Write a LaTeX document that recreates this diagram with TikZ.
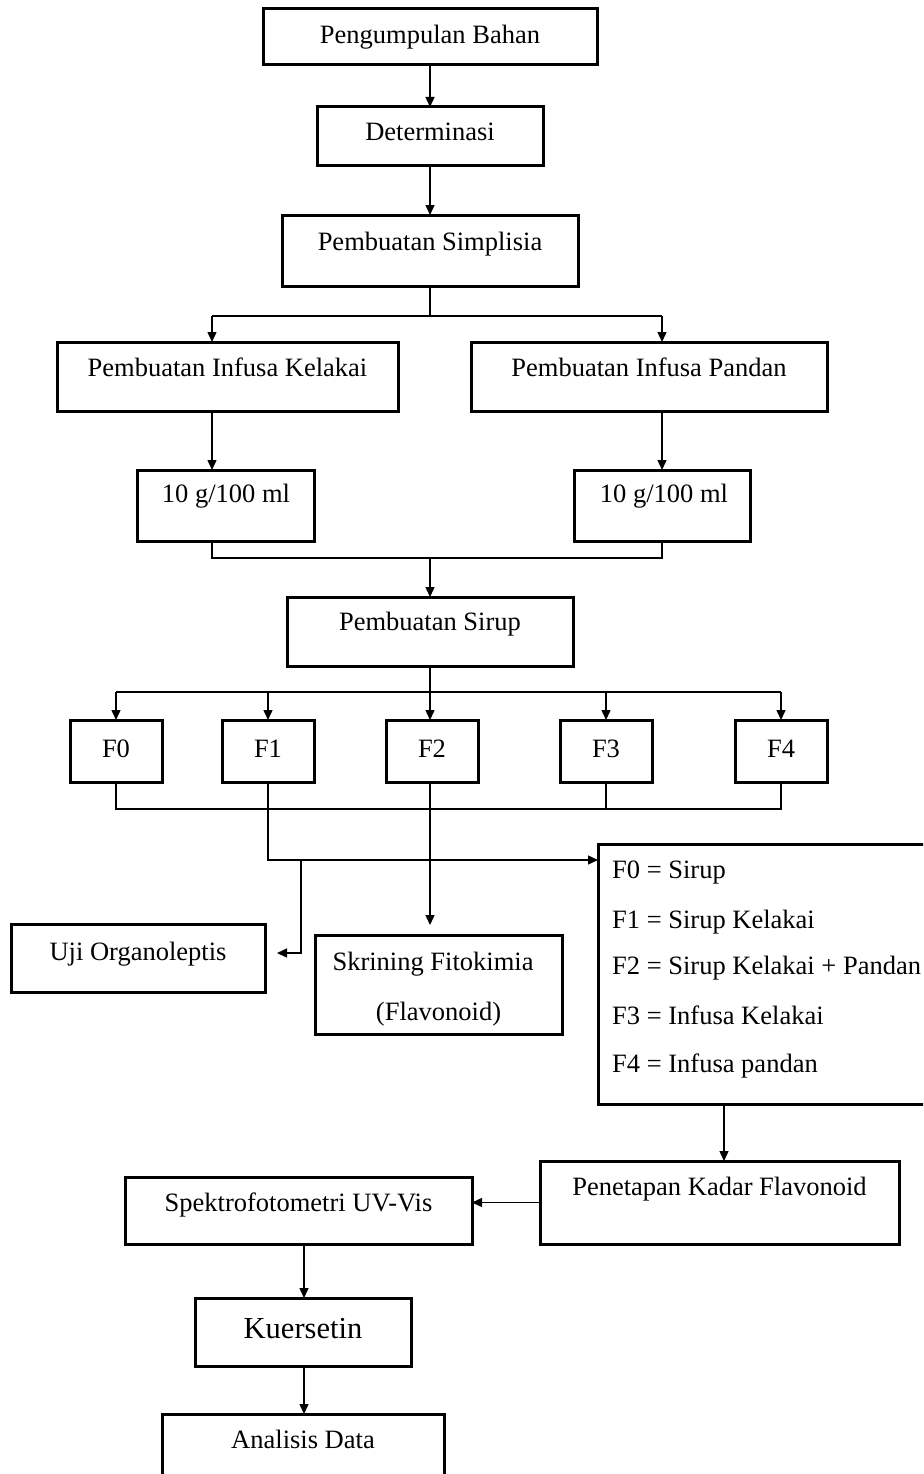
\documentclass[tikz,border=0pt]{standalone}
\usepackage{fontspec}
\setmainfont{Liberation Serif}
\usetikzlibrary{arrows.meta}
\begin{document}
\begin{tikzpicture}[x=1pt,y=-1pt,
 box/.style={draw,line width=3pt,inner sep=0pt,outer sep=0pt},
 txt/.style={anchor=base,inner sep=0pt,font=\fontsize{26.5}{30}\selectfont},
 ltxt/.style={anchor=base west,inner sep=0pt,font=\fontsize{26.5}{30}\selectfont},
 conn/.style={line width=1.4pt},
 arr/.style={conn,-{Triangle[length=10pt,width=9pt]}}]
\clip (0,0) rectangle (923,1474);
% columns and junction levels
\coordinate (cl) at (212,0);
\coordinate (cr) at (662,0);
\coordinate (cp) at (724,0);
\coordinate (cs) at (304,0);
\coordinate (cu) at (301,0);
\coordinate (j0) at (0,316);
\coordinate (j1) at (0,558);
\coordinate (j2) at (0,692);
\coordinate (j3) at (0,809);
\coordinate (j4) at (0,860);
\coordinate (j5) at (0,953);
% boxes
\node[box,minimum width=334,minimum height=56] (pb) at (430,37) {};
\node[txt] (pbt) at (430,44) {Pengumpulan Bahan};
\node[box,minimum width=226,minimum height=59] (det) at (430,136.5) {};
\node[txt] (dett) at (430,141) {Determinasi};
\node[box,minimum width=296,minimum height=71] (sim) at (430,250.5) {};
\node[txt] (simt) at (430,250) {Pembuatan Simplisia};
\node[box,minimum width=341,minimum height=69] (ik) at (227.5,376.5) {};
\node[txt] (ikt) at (227.5,376) {Pembuatan Infusa Kelakai};
\node[box,minimum width=356,minimum height=69] (ip) at (649,376.5) {};
\node[txt] (ipt) at (649,376) {Pembuatan Infusa Pandan};
\node[box,minimum width=177,minimum height=71] (k1) at (225.5,505.5) {};
\node[txt] (k1t) at (226,502) {10 g/100 ml};
\node[box,minimum width=176,minimum height=71] (k2) at (662,505.5) {};
\node[txt] (k2t) at (664,502) {10 g/100 ml};
\node[box,minimum width=286,minimum height=69] (sir) at (430,631.5) {};
\node[txt] (sirt) at (430,630) {Pembuatan Sirup};
\node[box,minimum width=92,minimum height=62] (f0) at (116,751) {};
\node[txt] (f0t) at (116,757) {F0};
\node[box,minimum width=92,minimum height=62] (f1) at (268,751) {};
\node[txt] (f1t) at (268,757) {F1};
\node[box,minimum width=92,minimum height=62] (f2) at (432,751) {};
\node[txt] (f2t) at (432,757) {F2};
\node[box,minimum width=92,minimum height=62] (f3) at (606,751) {};
\node[txt] (f3t) at (606,757) {F3};
\node[box,minimum width=92,minimum height=62] (f4) at (781,751) {};
\node[txt] (f4t) at (781,757) {F4};
\node[box,minimum width=254,minimum height=68] (uji) at (138,958) {};
\node[txt] (ujit) at (138,960) {Uji Organoleptis};
\node[box,minimum width=247,minimum height=99] (skr) at (438.5,984.5) {};
\node[txt] (skrt1) at (433,970) {Skrining Fitokimia};
\node[txt] (skrt2) at (438.5,1020) {(Flavonoid)};
\node[box,minimum width=342,minimum height=260] (leg) at (769,974) {};
\node[ltxt] (l0) at (612,878) {F0 = Sirup};
\node[ltxt] (l1) at (612,928) {F1 = Sirup Kelakai};
\node[ltxt] (l2) at (612,974) {F2 = Sirup Kelakai + Pandan};
\node[ltxt] (l3) at (612,1024) {F3 = Infusa Kelakai};
\node[ltxt] (l4) at (612,1072) {F4 = Infusa pandan};
\node[box,minimum width=359,minimum height=83] (pen) at (719.5,1202.5) {};
\node[txt] (pent) at (719.5,1195) {Penetapan Kadar Flavonoid};
\node[box,minimum width=347,minimum height=67] (spk) at (298.5,1210.5) {};
\node[txt] (spkt) at (298.5,1211) {Spektrofotometri UV-Vis};
\node[box,minimum width=216,minimum height=68] (kue) at (303,1332) {};
\node[txt,font=\fontsize{30.5}{34}\selectfont] (kuet) at (303,1338) {Kuersetin};
\node[box,minimum width=282,minimum height=86] (ana) at (303,1457) {};
\node[txt] (anat) at (303,1448) {Analisis Data};
% connectors
\draw[arr] (pb.south) -- (det.north);
\draw[arr] (det.south) -- (sim.north);
\draw[conn] (sim.south) -- (sim.south |- j0);
\draw[conn] (j0 -| cl) -- (j0 -| cr);
\draw[arr] (j0 -| cl) -- (ik.north -| cl);
\draw[arr] (j0 -| cr) -- (ip.north -| cr);
\draw[arr] (ik.south -| cl) -- (k1.north -| cl);
\draw[arr] (ip.south -| cr) -- (k2.north -| cr);
\draw[conn] (k1.south -| cl) -- (j1 -| cl) -- (j1 -| cr) -- (k2.south -| cr);
\draw[arr] (sir.north |- j1) -- (sir.north);
\draw[conn] (sir.south) -- (sir.south |- j2);
\draw[conn] (f0.north |- j2) -- (f4.north |- j2);
\draw[arr] (f0.north |- j2) -- (f0.north);
\draw[arr] (f1.north |- j2) -- (f1.north);
\draw[arr] (sir.south |- j2) -- (sir.south |- f2.north);
\draw[arr] (f3.north |- j2) -- (f3.north);
\draw[arr] (f4.north |- j2) -- (f4.north);
\draw[conn] (f0.south) -- (f0.south |- j3) -- (f4.south |- j3) -- (f4.south);
\draw[conn] (f3.south) -- (f3.south |- j3);
\draw[arr] (f1.south) -- (f1.south |- j4) -- (leg.west |- j4);
\draw[arr] (j4 -| cu) -- (j5 -| cu) -- ([xshift=12pt]uji.east |- j5);
\draw[arr] (sir.south |- f2.south) -- ([yshift=10pt]sir.south |- skr.north);
\draw[arr] (leg.south -| cp) -- (pen.north -| cp);
\draw[arr] (pen.west) -- (spk.east |- pen.west);
\draw[arr] (spk.south -| cs) -- (kue.north -| cs);
\draw[arr] (kue.south -| cs) -- (ana.north -| cs);
\end{tikzpicture}
\end{document}
